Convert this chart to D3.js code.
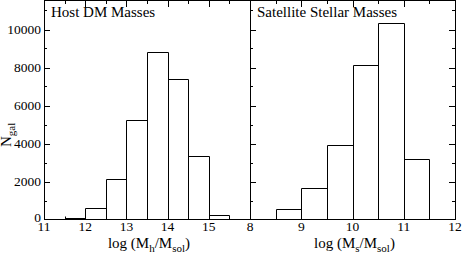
<!DOCTYPE html>
<html>
<head>
<meta charset="utf-8">
<script src="https://cdn.jsdelivr.net/npm/d3@7"></script>
<style>
  body { margin: 0; background: #fff; }
  svg { display: block; }
  .bar { fill: none; stroke: #000; stroke-width: 1; }
</style>
</head>
<body>
<svg id="chart" width="463" height="253" font-family="'Liberation Serif', 'Times New Roman', Times, serif"></svg>
<script>
// bin edges (log mass) and counts per bin
let hostEdges = [11, 11.5, 12, 12.5, 13, 13.5, 14, 14.5, 15, 15.5];
let hostCounts = [30, 100, 620, 2130, 5240, 8800, 7390, 3320, 220];
let satEdges = [8, 8.5, 9, 9.5, 10, 10.5, 11, 11.5, 12];
let satCounts = [30, 570, 1640, 3910, 8130, 10320, 3210, 30];
let yTicks = [0, 2000, 4000, 6000, 8000, 10000];
let hostTicks = [11, 12, 13, 14, 15];
let satTicks = [8, 9, 10, 11, 12];

let svg = d3.select("#chart");
let plotTop = 1, plotBottom = 219.5;

let y = d3.scaleLinear().domain([0, 11500]).range([plotBottom, plotTop]);

let panels = [
    {x0: 44, x1: 250, domain: [11, 16], edges: hostEdges, counts: hostCounts,
     ticks: hostTicks, title: "Host DM Masses", sub: "h", leftLabels: true, rightTicks: false},
    {x0: 250, x1: 455, domain: [8, 12], edges: satEdges, counts: satCounts,
     ticks: satTicks, title: "Satellite Stellar Masses", sub: "s", leftLabels: false, rightTicks: true}
];

function halfSteps(a, b){
    let out = [];
    for(let v = a; v <= b + 1e-9; v += 0.5) out.push(v);
    return out;
}

panels.forEach(function(p){
    let x = d3.scaleLinear().domain(p.domain).range([p.x0, p.x1]);
    let g = svg.append("g");

    // bars
    let bins = p.counts.map((c, i) => ({x0: p.edges[i], x1: p.edges[i+1], n: c}));
    g.selectAll("path.bar").data(bins).enter().append("path")
        .attr("class", "bar")
        .attr("d", d => "M" + (Math.round(x(d.x0)) + 0.5) + "," + plotBottom +
            "V" + (Math.round(y(d.n)) + 0.5) +
            "H" + (Math.round(x(d.x1)) + 0.5) + "V" + plotBottom);

    // frame
    g.append("rect")
        .attr("x", p.x0 + 0.5).attr("y", plotTop - 0.5)
        .attr("width", p.x1 - p.x0).attr("height", plotBottom - plotTop + 0.5)
        .attr("fill", "none").attr("stroke", "#000").attr("stroke-width", 1);

    // x ticks (major integers, minor halves), inward at bottom and top
    let xt = halfSteps(p.domain[0], p.domain[1]);
    let xticks = g.append("g").attr("stroke", "#000").attr("stroke-width", 1);
    xt.forEach(function(v){
        if(v === p.domain[0] || v === p.domain[1]) return;
        let major = Math.abs(v - Math.round(v)) < 1e-9;
        let len = major ? 6 : 3;
        let px = Math.round(x(v)) + 0.5;
        xticks.append("line").attr("x1", px).attr("x2", px).attr("y1", plotBottom).attr("y2", plotBottom - len);
        xticks.append("line").attr("x1", px).attr("x2", px).attr("y1", plotTop).attr("y2", plotTop + len);
    });

    // y ticks inward on the left (and right for the second panel)
    let yt = d3.range(1000, 11500, 1000);
    let yticks = g.append("g").attr("stroke", "#000").attr("stroke-width", 1);
    yt.forEach(function(v){
        let major = v % 2000 === 0;
        let len = major ? 6 : 3;
        let py = Math.round(y(v)) + 0.5;
        yticks.append("line").attr("x1", p.x0).attr("x2", p.x0 + len).attr("y1", py).attr("y2", py);
        if(p.rightTicks){
            yticks.append("line").attr("x1", p.x1).attr("x2", p.x1 - len).attr("y1", py).attr("y2", py);
        }
    });

    // x tick labels
    g.selectAll("text.xl").data(p.ticks).enter().append("text")
        .attr("class", "xl")
        .attr("x", d => x(d))
        .attr("y", 231)
        .attr("text-anchor", "middle")
        .style("font-size", "13.5px")
        .text(d => d);

    // y tick labels
    if(p.leftLabels){
        g.selectAll("text.yl").data(yTicks).enter().append("text")
            .attr("class", "yl")
            .attr("x", p.x0 - 3)
            .attr("y", d => y(d) + (d === 0 ? 2.5 : 4.5))
            .attr("text-anchor", "end")
            .style("font-size", "13.5px")
            .text(d => d);
    }

    // panel title
    g.append("text")
        .attr("x", p.x0 + 7)
        .attr("y", 17)
        .style("font-size", "15px")
        .text(p.title);

    // x axis title
    let t = g.append("text")
        .attr("x", (p.x0 + p.x1) / 2 + 2)
        .attr("y", 247.5)
        .attr("text-anchor", "middle")
        .style("font-size", "15px");
    t.append("tspan").text("log (M");
    t.append("tspan").attr("dy", 4).style("font-size", "11px").text(p.sub);
    t.append("tspan").attr("dy", -4).text("/M");
    t.append("tspan").attr("dy", 4).style("font-size", "11px").text("sol");
    t.append("tspan").attr("dy", -4).text(")");
});

// y axis title
let yl = svg.append("text")
    .attr("transform", "translate(11,147) rotate(-90)")
    .style("font-size", "15px");
yl.append("tspan").text("N");
yl.append("tspan").attr("dy", 4).style("font-size", "11px").text("gal");
</script>
</body>
</html>
